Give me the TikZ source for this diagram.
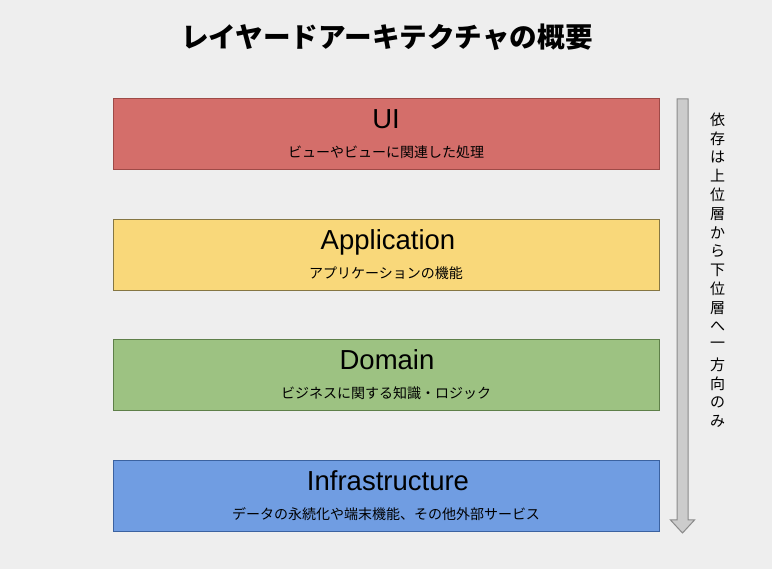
\documentclass[tikz,border=0pt]{standalone}
\usepackage{fontspec}
\setmainfont{Liberation Sans}
\newfontfamily\jp{Noto Sans CJK JP}
\definecolor{bg}{HTML}{EEEEEE}
\definecolor{uifill}{HTML}{D46E6A}
\definecolor{uidraw}{HTML}{9E4A47}
\definecolor{appfill}{HTML}{F9D87A}
\definecolor{appdraw}{HTML}{857643}
\definecolor{domfill}{HTML}{9DC282}
\definecolor{domdraw}{HTML}{5E7F49}
\definecolor{inffill}{HTML}{709DE2}
\definecolor{infdraw}{HTML}{3B62A0}
\definecolor{arrfill}{HTML}{CCCCCC}
\definecolor{arrdraw}{HTML}{8A8A8A}
\tikzset{
  layer/.style={draw, line width=1pt, minimum width=546pt, minimum height=71pt, inner sep=0pt},
  lbl/.style={anchor=base, inner sep=0pt, font=\fontsize{27.5}{27.5}\selectfont},
  sub/.style={anchor=base, inner sep=0pt, font=\jp\fontsize{14}{14}\selectfont},
  ttl/.style={anchor=base, inner sep=0pt, font=\jp\bfseries\fontsize{27.6}{27.6}\selectfont},
  vchar/.style={anchor=center, inner sep=0pt, font=\jp\fontsize{15}{15}\selectfont},
  bigarrow/.style={fill=arrfill, draw=arrdraw, line width=1pt, line join=miter}
}
\begin{document}
\begin{tikzpicture}[x=1pt, y=-1pt]
\fill[bg] (0,0) rectangle (772,569);
\useasboundingbox (0,0) rectangle (772,569);
\node[ttl] (title) at (387,48) {レイヤードアーキテクチャの概要};
% layers
\node[layer, fill=uifill, draw=uidraw] (ui) at (386,134.5) {};
\node[lbl] (uiname) at (386,129) {UI};
\node[sub] (uisub) at (386,157.5) {ビューやビューに関連した処理};
\node[layer, fill=appfill, draw=appdraw] (app) at (386,255.5) {};
\node[lbl] (appname) at (388,250) {Application};
\node[sub] (appsub) at (386,278.5) {アプリケーションの機能};
\node[layer, fill=domfill, draw=domdraw] (dom) at (386,375.5) {};
\node[lbl] (domname) at (387,370) {Domain};
\node[sub] (domsub) at (386,398.5) {ビジネスに関する知識・ロジック};
\node[layer, fill=inffill, draw=infdraw] (inf) at (386,496.5) {};
\node[lbl] (infname) at (388,491) {Infrastructure};
\node[sub] (infsub) at (386,519.5) {データの永続化や端末機能、その他外部サービス};
% dependency arrow
\draw[bigarrow] (677,99) -- (688,99) -- (688,520) -- (694.5,520) -- (682.5,533) -- (670.5,520) -- (677,520) -- cycle;
% vertical note
\foreach \c [count=\i from 0] in {依,存,は,上,位,層,か,ら,下,位,層,へ,一,方,向,の,み}
  \node[vchar] (v\i) at (717.5,119.5+18.85*\i) {\c};
\end{tikzpicture}
\end{document}
